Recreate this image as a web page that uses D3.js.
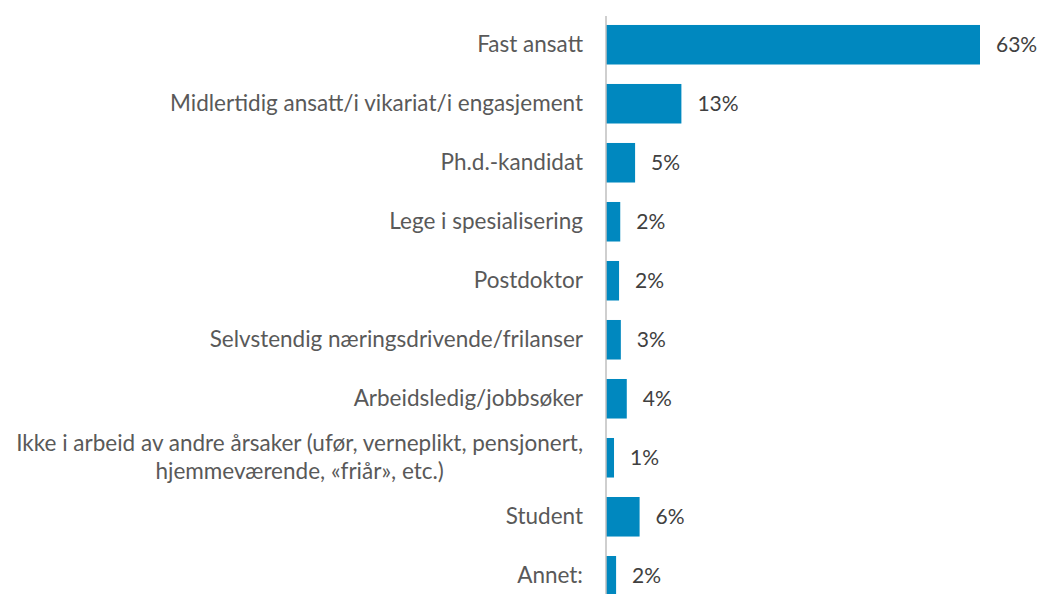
<!DOCTYPE html>
<html>
<head>
<meta charset="utf-8">
<script src="https://cdn.jsdelivr.net/npm/d3@7"></script>
<style>
  body { margin: 0; background: #fff; }
  svg text { font-family: Lato, "Open Sans", sans-serif; }
</style>
</head>
<body>
<div id="chart"></div>
<script>
// categories (multi-line labels split with |)
var categories = [
  "Fast ansatt",
  "Midlertidig ansatt/i vikariat/i engasjement",
  "Ph.d.-kandidat",
  "Lege i spesialisering",
  "Postdoktor",
  "Selvstendig næringsdrivende/frilanser",
  "Arbeidsledig/jobbsøker",
  "Ikke i arbeid av andre årsaker (ufør, verneplikt, pensjonert,|hjemmeværende, «friår», etc.)",
  "Student",
  "Annet:"
];
var values = [63.0, 12.7, 4.9, 2.4, 2.2, 2.5, 3.5, 1.35, 5.66, 1.7];
var valueLabels = ["63%", "13%", "5%", "2%", "2%", "3%", "4%", "1%", "6%", "2%"];

var width = 1039, height = 594;
var axisX = 606;

var svg = d3.select('#chart')
  .append('svg')
  .attr('width', width)
  .attr('height', height);

var xScale = d3.scaleLinear()
  .domain([0, 63])
  .range([axisX, 980]);

var yScale = d3.scaleBand()
  .domain(d3.range(categories.length))
  .range([5.5, 615])
  .padding(0.33);

// bars
svg.selectAll('.bar')
  .data(values)
  .enter()
  .append('rect')
  .attr('class', 'bar')
  .attr('x', xScale(0))
  .attr('y', function (d, i) { return yScale(i); })
  .attr('width', function (d) { return xScale(d) - xScale(0); })
  .attr('height', yScale.bandwidth())
  .attr('fill', '#0088bf');

// value labels
svg.selectAll('.val')
  .data(values)
  .enter()
  .append('text')
  .attr('class', 'val')
  .attr('x', function (d) { return xScale(d) + 16; })
  .attr('y', function (d, i) { return yScale(i) + yScale.bandwidth() / 2; })
  .attr('dy', '0.36em')
  .attr('font-size', 21)
  .attr('fill', '#404040')
  .text(function (d, i) { return valueLabels[i]; });

// category axis (labels only, plus vertical line)
var yAxis = d3.axisLeft(yScale)
  .tickSize(0)
  .tickPadding(23)
  .tickFormat(function (i) { return categories[i]; });

var gAxis = svg.append('g')
  .attr('transform', 'translate(' + axisX + ',0)')
  .call(yAxis);

gAxis.select('.domain').remove();
gAxis.selectAll('text')
  .attr('font-size', 22.5)
  .attr('fill', '#595959')
  .each(function () {
    var t = d3.select(this);
    var lines = t.text().split('|');
    if (lines.length < 2) return;
    // wrapped label: lines centred on each other, block right-aligned
    t.text(lines[0]);
    var w = this.getComputedTextLength();
    var x = +t.attr('x') - w / 2;
    t.text(null).attr('text-anchor', 'middle').attr('dy', null);
    lines.forEach(function (l, k) {
      t.append('tspan')
        .attr('x', x)
        .attr('dy', k === 0 ? '-0.28em' : '1.22em')
        .text(l);
    });
  });

svg.append('line')
  .attr('x1', axisX).attr('x2', axisX)
  .attr('y1', 16).attr('y2', height)
  .attr('stroke', '#bfbfbf')
  .attr('stroke-width', 1.5);
</script>
</body>
</html>
